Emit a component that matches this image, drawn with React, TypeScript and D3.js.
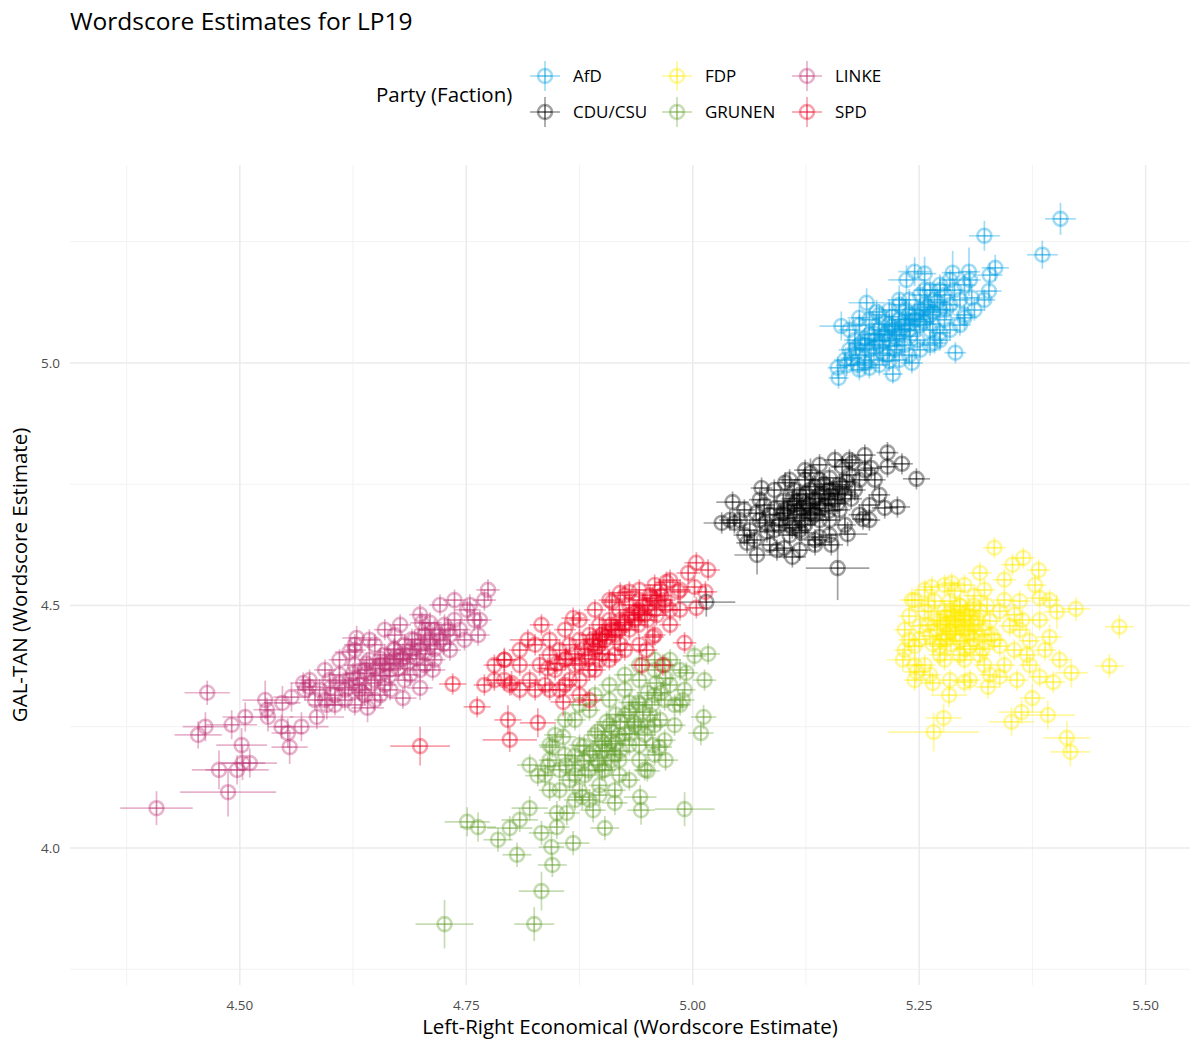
import React from 'react';
import * as d3 from 'd3';

// [x, y, xError, yError]
type Pt = [number, number, number, number];
// dense cores: [x, y], drawn with the typical small error bars
type Core = [number, number];

const parties = ['AfD', 'CDU/CSU', 'FDP', 'GRUNEN', 'LINKE', 'SPD'];
const partyColors = ['#009EE0', '#000000', '#FFED00', '#64A12D', '#BE3075', '#EB001F'];

const xTicks = [4.5, 4.75, 5.0, 5.25, 5.5];
const xMinor = [4.375, 4.625, 4.875, 5.125, 5.375];
const yTicks = [4.0, 4.5, 5.0];
const yMinor = [3.75, 4.25, 4.75, 5.25];

const coreXErr = 0.012;
const coreYErr = 0.022;

const afd: Pt[] = [
  [5.406, 5.297, 0.017, 0.033], [5.322, 5.262, 0.017, 0.031], [5.386, 5.223, 0.017, 0.029],
  [5.334, 5.196, 0.015, 0.027], [5.328, 5.181, 0.014, 0.025], [5.327, 5.148, 0.014, 0.025],
  [5.305, 5.188, 0.012, 0.05], [5.287, 5.186, 0.012, 0.045], [5.256, 5.184, 0.013, 0.035],
  [5.245, 5.188, 0.018, 0.03], [5.236, 5.171, 0.02, 0.03], [5.192, 5.124, 0.02, 0.03],
  [5.164, 5.076, 0.024, 0.03], [5.184, 5.093, 0.013, 0.025], [5.16, 4.99, 0.011, 0.022],
  [5.161, 4.969, 0.011, 0.022], [5.221, 4.977, 0.011, 0.02], [5.242, 5.0, 0.012, 0.022],
  [5.29, 5.021, 0.012, 0.022], [5.3, 5.093, 0.014, 0.025], [5.308, 5.134, 0.014, 0.025],
  [5.267, 5.041, 0.013, 0.022], [5.273, 5.062, 0.012, 0.022], [5.228, 5.13, 0.013, 0.03],
  [5.203, 5.105, 0.013, 0.025],
];
const afdCore: Core[] = [
  [5.173, 5.027], [5.179, 5.047], [5.184, 5.016], [5.19, 5.037], [5.195, 5.058], [5.195, 5.027],
  [5.201, 5.047], [5.206, 5.068], [5.206, 5.037], [5.212, 5.058], [5.217, 5.078], [5.217, 5.047],
  [5.223, 5.068], [5.228, 5.089], [5.228, 5.058], [5.234, 5.078], [5.239, 5.099], [5.239, 5.068],
  [5.245, 5.089], [5.251, 5.109], [5.251, 5.078], [5.256, 5.12], [5.262, 5.099], [5.267, 5.13],
  [5.273, 5.109], [5.278, 5.14], [5.284, 5.12], [5.289, 5.15], [5.168, 5.006], [5.182, 4.996],
  [5.197, 5.006], [5.215, 5.016], [5.223, 5.027], [5.234, 5.037], [5.248, 5.047], [5.256, 5.15],
  [5.273, 5.15], [5.295, 5.13], [5.3, 5.161], [5.278, 5.089], [5.262, 5.068],
  [5.185, 5.04], [5.19, 5.05], [5.2, 5.06], [5.21, 5.045], [5.215, 5.065], [5.22, 5.075],
  [5.225, 5.05], [5.23, 5.07], [5.235, 5.09], [5.24, 5.08], [5.245, 5.1], [5.25, 5.09],
  [5.255, 5.11], [5.26, 5.115], [5.265, 5.105], [5.27, 5.125], [5.2, 5.03], [5.21, 5.02],
  [5.18, 5.03], [5.175, 5.01], [5.19, 5.0], [5.225, 5.035], [5.24, 5.055], [5.255, 5.085],
  [5.265, 5.08], [5.28, 5.11], [5.205, 5.08], [5.22, 5.095], [5.235, 5.11], [5.17, 4.995],
  [5.173, 5.068], [5.195, 5.089], [5.217, 5.109], [5.239, 5.13], [5.262, 5.15], [5.284, 5.171],
  [5.306, 5.171], [5.184, 5.078], [5.206, 5.099], [5.228, 5.12], [5.251, 5.14], [5.273, 5.161],
  [5.184, 4.986], [5.206, 4.996], [5.228, 5.006], [5.251, 5.027], [5.273, 5.047], [5.295, 5.078],
  [5.311, 5.109], [5.322, 5.13], [5.195, 4.99], [5.217, 5.004], [5.239, 5.016], [5.262, 5.037],
  [5.284, 5.068], [5.3, 5.099],
];

const cdu: Pt[] = [
  [5.247, 4.761, 0.015, 0.022], [5.231, 4.792, 0.012, 0.022], [5.215, 4.815, 0.012, 0.022],
  [5.215, 4.786, 0.012, 0.022], [5.19, 4.81, 0.012, 0.022], [5.197, 4.783, 0.012, 0.022],
  [5.226, 4.703, 0.014, 0.022], [5.212, 4.701, 0.014, 0.022], [5.195, 4.676, 0.012, 0.022],
  [5.188, 4.678, 0.012, 0.022], [5.171, 4.647, 0.022, 0.025], [5.153, 4.625, 0.013, 0.022],
  [5.16, 4.577, 0.035, 0.066], [5.11, 4.6, 0.015, 0.022], [5.071, 4.604, 0.025, 0.04],
  [5.06, 4.629, 0.012, 0.022], [5.032, 4.67, 0.02, 0.022], [5.046, 4.67, 0.012, 0.022],
  [5.044, 4.713, 0.018, 0.022], [5.076, 4.742, 0.012, 0.022], [5.102, 4.753, 0.012, 0.022],
  [5.13, 4.773, 0.014, 0.03], [5.151, 4.763, 0.012, 0.022], [5.165, 4.786, 0.012, 0.022],
  [5.176, 4.794, 0.012, 0.022], [5.015, 4.507, 0.032, 0.03], [5.14, 4.641, 0.012, 0.022],
  [5.093, 4.614, 0.012, 0.022], [5.082, 4.652, 0.012, 0.022],
];
const cduCore: Core[] = [
  [5.096, 4.676], [5.101, 4.697], [5.107, 4.666], [5.112, 4.707], [5.118, 4.687], [5.118, 4.728],
  [5.124, 4.666], [5.129, 4.707], [5.129, 4.738], [5.135, 4.687], [5.14, 4.728], [5.14, 4.759],
  [5.146, 4.707], [5.151, 4.738], [5.157, 4.718], [5.162, 4.749], [5.168, 4.728], [5.107, 4.645],
  [5.09, 4.655], [5.085, 4.687], [5.074, 4.676], [5.079, 4.707], [5.112, 4.738], [5.124, 4.759],
  [5.173, 4.769], [5.179, 4.738], [5.184, 4.759], [5.063, 4.655], [5.052, 4.676], [5.135, 4.635],
  [5.151, 4.676], [5.1, 4.69], [5.12, 4.7], [5.11, 4.72], [5.13, 4.69],
  [5.105, 4.68], [5.115, 4.695], [5.125, 4.71], [5.135, 4.72], [5.145, 4.73], [5.155, 4.74],
  [5.12, 4.675], [5.13, 4.7], [5.14, 4.71], [5.15, 4.72], [5.16, 4.73], [5.095, 4.665],
  [5.105, 4.7], [5.115, 4.715], [5.125, 4.73], [5.135, 4.745], [5.145, 4.75], [5.11, 4.66],
  [5.12, 4.65], [5.1, 4.715], [5.09, 4.7], [5.165, 4.745], [5.17, 4.755], [5.14, 4.7],
  [5.13, 4.68], [5.15, 4.695], [5.08, 4.67], [5.07, 4.69], [5.16, 4.71], [5.175, 4.72],
  [5.041, 4.676], [5.057, 4.697], [5.074, 4.718], [5.09, 4.738], [5.107, 4.759], [5.124, 4.779],
  [5.14, 4.79], [5.157, 4.8], [5.173, 4.8], [5.19, 4.779], [5.201, 4.759], [5.206, 4.728],
  [5.195, 4.707], [5.184, 4.687], [5.168, 4.666], [5.151, 4.645], [5.135, 4.625], [5.118, 4.614],
  [5.101, 4.618], [5.085, 4.625], [5.068, 4.635], [5.057, 4.645], [5.118, 4.655], [5.14, 4.676],
  [5.162, 4.697],
];

const fdp: Pt[] = [
  [5.333, 4.619, 0.013, 0.022], [5.365, 4.598, 0.013, 0.022], [5.353, 4.584, 0.013, 0.022],
  [5.382, 4.573, 0.013, 0.022], [5.423, 4.493, 0.016, 0.025], [5.471, 4.456, 0.016, 0.025],
  [5.46, 4.375, 0.016, 0.025], [5.418, 4.361, 0.018, 0.03], [5.402, 4.487, 0.014, 0.035],
  [5.394, 4.435, 0.014, 0.025], [5.392, 4.274, 0.03, 0.03], [5.413, 4.227, 0.026, 0.035],
  [5.417, 4.198, 0.022, 0.03], [5.375, 4.309, 0.014, 0.03], [5.363, 4.28, 0.025, 0.025],
  [5.352, 4.26, 0.025, 0.03], [5.326, 4.332, 0.014, 0.025], [5.283, 4.315, 0.02, 0.025],
  [5.277, 4.268, 0.02, 0.03], [5.266, 4.239, 0.05, 0.04], [5.247, 4.363, 0.014, 0.025],
  [5.232, 4.388, 0.018, 0.025], [5.242, 4.511, 0.014, 0.025], [5.264, 4.538, 0.013, 0.022],
  [5.286, 4.546, 0.013, 0.022], [5.317, 4.567, 0.013, 0.022], [5.344, 4.553, 0.013, 0.022],
  [5.383, 4.515, 0.014, 0.022], [5.364, 4.47, 0.013, 0.022], [5.369, 4.398, 0.013, 0.022],
  [5.383, 4.353, 0.013, 0.022], [5.398, 4.342, 0.013, 0.022], [5.358, 4.346, 0.013, 0.022],
  [5.339, 4.353, 0.013, 0.022], [5.3, 4.342, 0.013, 0.022], [5.265, 4.34, 0.013, 0.022],
];
const fdpCore: Core[] = [
  [5.256, 4.488], [5.267, 4.509], [5.273, 4.468], [5.278, 4.488], [5.284, 4.447], [5.284, 4.509],
  [5.289, 4.478], [5.295, 4.427], [5.295, 4.499], [5.3, 4.458], [5.306, 4.478], [5.306, 4.416],
  [5.311, 4.52], [5.311, 4.447], [5.317, 4.489], [5.322, 4.427], [5.273, 4.416], [5.262, 4.437],
  [5.251, 4.458], [5.245, 4.416], [5.328, 4.468], [5.339, 4.488], [5.35, 4.458], [5.339, 4.416],
  [5.278, 4.388], [5.3, 4.388], [5.322, 4.377], [5.256, 4.377], [5.239, 4.478], [5.289, 4.53],
  [5.361, 4.509], [5.372, 4.427], [5.245, 4.346], [5.29, 4.46], [5.3, 4.47], [5.28, 4.43],
  [5.27, 4.45], [5.28, 4.46], [5.29, 4.47], [5.3, 4.48], [5.31, 4.46], [5.29, 4.44],
  [5.3, 4.45], [5.31, 4.43], [5.28, 4.44], [5.27, 4.47], [5.285, 4.49], [5.295, 4.5],
  [5.305, 4.49], [5.315, 4.47], [5.32, 4.45], [5.275, 4.43], [5.26, 4.46], [5.265, 4.42],
  [5.285, 4.42], [5.3, 4.41], [5.32, 4.41], [5.33, 4.44], [5.325, 4.5], [5.26, 4.5],
  [5.25, 4.43], [5.29, 4.455], [5.305, 4.44], [5.295, 4.485], [5.28, 4.475], [5.31, 4.5],
  [5.245, 4.511], [5.256, 4.532], [5.278, 4.542], [5.3, 4.542], [5.322, 4.532], [5.344, 4.511],
  [5.355, 4.481], [5.361, 4.45], [5.355, 4.408], [5.344, 4.377], [5.328, 4.357], [5.306, 4.346],
  [5.284, 4.346], [5.262, 4.357], [5.245, 4.377], [5.234, 4.408], [5.234, 4.45], [5.239, 4.429],
  [5.383, 4.47], [5.389, 4.408], [5.372, 4.377], [5.405, 4.388], [5.394, 4.511], [5.378, 4.542],
  [5.295, 4.398], [5.317, 4.398], [5.333, 4.429], [5.273, 4.398],
];

const grunen: Pt[] = [
  [5.017, 4.4, 0.013, 0.022], [5.002, 4.396, 0.013, 0.022], [5.013, 4.346, 0.013, 0.022],
  [5.012, 4.27, 0.014, 0.025], [5.009, 4.237, 0.014, 0.025], [4.991, 4.08, 0.033, 0.035],
  [4.97, 4.181, 0.014, 0.022], [4.95, 4.159, 0.014, 0.022], [4.942, 4.105, 0.018, 0.025],
  [4.943, 4.078, 0.015, 0.03], [4.914, 4.093, 0.014, 0.025], [4.903, 4.041, 0.016, 0.025],
  [4.89, 4.078, 0.014, 0.025], [4.878, 4.105, 0.015, 0.025], [4.861, 4.072, 0.014, 0.025],
  [4.85, 4.072, 0.014, 0.025], [4.85, 4.043, 0.014, 0.025], [4.868, 4.01, 0.018, 0.025],
  [4.844, 4.002, 0.014, 0.03], [4.845, 3.965, 0.016, 0.025], [4.833, 3.911, 0.025, 0.04],
  [4.825, 3.843, 0.022, 0.035], [4.726, 3.843, 0.032, 0.05], [4.751, 4.054, 0.025, 0.03],
  [4.763, 4.043, 0.02, 0.03], [4.785, 4.017, 0.016, 0.025], [4.806, 3.986, 0.016, 0.025],
  [4.798, 4.041, 0.025, 0.025], [4.809, 4.058, 0.02, 0.025], [4.82, 4.082, 0.02, 0.025],
  [4.833, 4.031, 0.014, 0.025], [4.82, 4.171, 0.014, 0.022], [4.829, 4.149, 0.014, 0.022],
  [4.84, 4.169, 0.014, 0.022], [4.857, 4.229, 0.014, 0.022], [4.845, 4.208, 0.014, 0.022],
  [4.963, 4.208, 0.014, 0.022], [4.956, 4.212, 0.014, 0.022], [4.989, 4.305, 0.013, 0.022],
  [4.993, 4.361, 0.013, 0.022],
];
const grunenCore: Core[] = [
  [4.853, 4.161], [4.859, 4.192], [4.864, 4.14], [4.87, 4.171], [4.875, 4.212], [4.881, 4.15],
  [4.886, 4.192], [4.892, 4.233], [4.897, 4.171], [4.903, 4.212], [4.908, 4.253], [4.914, 4.192],
  [4.919, 4.233], [4.925, 4.274], [4.93, 4.212], [4.936, 4.253], [4.941, 4.295], [4.947, 4.233],
  [4.953, 4.274], [4.958, 4.315], [4.964, 4.264], [4.969, 4.305], [4.975, 4.336], [4.98, 4.295],
  [4.908, 4.305], [4.925, 4.326], [4.941, 4.346], [4.958, 4.367], [4.969, 4.377], [4.875, 4.119],
  [4.897, 4.129], [4.919, 4.15], [4.941, 4.181], [4.842, 4.119], [4.87, 4.264], [4.886, 4.284],
  [4.9, 4.2], [4.91, 4.22], [4.92, 4.2],
  [4.88, 4.18], [4.89, 4.2], [4.9, 4.22], [4.91, 4.24], [4.92, 4.26], [4.93, 4.28],
  [4.94, 4.3], [4.95, 4.32], [4.885, 4.16], [4.895, 4.18], [4.905, 4.2], [4.915, 4.215],
  [4.925, 4.235], [4.935, 4.26], [4.945, 4.28], [4.955, 4.295], [4.965, 4.32], [4.87, 4.19],
  [4.88, 4.21], [4.895, 4.24], [4.905, 4.26], [4.915, 4.275], [4.93, 4.235], [4.94, 4.25],
  [4.95, 4.25], [4.86, 4.17], [4.87, 4.15], [4.9, 4.16], [4.91, 4.18], [4.96, 4.34],
  [4.97, 4.35], [4.93, 4.3],
  [4.842, 4.181], [4.837, 4.15], [4.853, 4.119], [4.87, 4.099], [4.886, 4.099], [4.897, 4.109],
  [4.914, 4.119], [4.93, 4.14], [4.947, 4.161], [4.958, 4.192], [4.969, 4.222], [4.98, 4.253],
  [4.986, 4.295], [4.991, 4.326], [4.986, 4.367], [4.975, 4.388], [4.958, 4.388], [4.941, 4.377],
  [4.925, 4.357], [4.908, 4.336], [4.892, 4.315], [4.875, 4.295], [4.859, 4.264], [4.848, 4.233],
  [4.842, 4.212], [4.919, 4.181], [4.903, 4.161], [4.941, 4.212], [4.958, 4.253],
];

const linke: Pt[] = [
  [4.774, 4.532, 0.013, 0.022], [4.77, 4.511, 0.013, 0.022], [4.751, 4.491, 0.013, 0.022],
  [4.765, 4.47, 0.013, 0.022], [4.763, 4.439, 0.013, 0.022], [4.701, 4.464, 0.013, 0.022],
  [4.71, 4.464, 0.013, 0.022], [4.629, 4.433, 0.016, 0.025], [4.621, 4.404, 0.016, 0.025],
  [4.713, 4.367, 0.014, 0.022], [4.699, 4.33, 0.014, 0.025], [4.68, 4.309, 0.015, 0.022],
  [4.641, 4.289, 0.018, 0.03], [4.585, 4.27, 0.03, 0.025], [4.596, 4.295, 0.02, 0.03],
  [4.568, 4.25, 0.03, 0.03], [4.555, 4.208, 0.02, 0.035], [4.553, 4.237, 0.018, 0.03],
  [4.557, 4.311, 0.02, 0.03], [4.547, 4.299, 0.02, 0.035], [4.528, 4.305, 0.025, 0.04],
  [4.531, 4.27, 0.028, 0.03], [4.506, 4.27, 0.025, 0.03], [4.491, 4.254, 0.028, 0.03],
  [4.464, 4.32, 0.025, 0.025], [4.462, 4.25, 0.025, 0.03], [4.454, 4.233, 0.026, 0.028],
  [4.502, 4.212, 0.028, 0.035], [4.511, 4.175, 0.03, 0.03], [4.503, 4.175, 0.025, 0.035],
  [4.497, 4.161, 0.035, 0.03], [4.477, 4.161, 0.03, 0.04], [4.487, 4.115, 0.053, 0.05],
  [4.408, 4.082, 0.04, 0.035], [4.53, 4.285, 0.015, 0.025], [4.546, 4.25, 0.015, 0.025],
  [4.577, 4.332, 0.014, 0.022], [4.57, 4.34, 0.014, 0.022],
];
const linkeCore: Core[] = [
  [4.588, 4.326], [4.599, 4.346], [4.605, 4.315], [4.61, 4.357], [4.616, 4.326], [4.621, 4.346],
  [4.627, 4.377], [4.632, 4.336], [4.638, 4.367], [4.643, 4.388], [4.649, 4.346], [4.655, 4.377],
  [4.66, 4.398], [4.666, 4.367], [4.671, 4.408], [4.677, 4.388], [4.682, 4.419], [4.688, 4.398],
  [4.693, 4.429], [4.699, 4.408], [4.704, 4.439], [4.71, 4.419], [4.715, 4.45], [4.721, 4.429],
  [4.726, 4.46], [4.732, 4.439], [4.737, 4.47], [4.743, 4.45], [4.616, 4.305], [4.638, 4.315],
  [4.66, 4.336], [4.627, 4.408], [4.649, 4.419], [4.671, 4.439], [4.688, 4.357], [4.704, 4.377],
  [4.594, 4.305], [4.665, 4.38], [4.68, 4.39],
  [4.62, 4.33], [4.63, 4.35], [4.64, 4.36], [4.65, 4.37], [4.66, 4.38], [4.67, 4.39],
  [4.68, 4.4], [4.69, 4.41], [4.7, 4.42], [4.71, 4.43], [4.72, 4.44], [4.73, 4.45],
  [4.635, 4.32], [4.645, 4.34], [4.655, 4.355], [4.665, 4.355], [4.675, 4.37], [4.685, 4.38],
  [4.695, 4.39], [4.705, 4.4], [4.715, 4.41], [4.725, 4.42], [4.6, 4.33], [4.61, 4.34],
  [4.625, 4.36], [4.64, 4.38], [4.655, 4.39], [4.67, 4.41], [4.69, 4.43], [4.705, 4.45],
  [4.577, 4.346], [4.594, 4.367], [4.61, 4.388], [4.627, 4.419], [4.643, 4.429], [4.66, 4.45],
  [4.677, 4.46], [4.699, 4.481], [4.721, 4.501], [4.737, 4.511], [4.754, 4.501], [4.759, 4.47],
  [4.748, 4.429], [4.732, 4.408], [4.715, 4.388], [4.699, 4.367], [4.682, 4.346], [4.666, 4.326],
  [4.649, 4.305], [4.627, 4.295], [4.605, 4.295], [4.583, 4.305], [4.572, 4.326], [4.655, 4.315],
  [4.632, 4.326],
];

const spd: Pt[] = [
  [5.004, 4.588, 0.013, 0.022], [5.017, 4.573, 0.013, 0.022], [4.995, 4.567, 0.013, 0.022],
  [5.002, 4.538, 0.013, 0.022], [5.014, 4.528, 0.013, 0.022], [5.004, 4.495, 0.013, 0.022],
  [4.991, 4.423, 0.013, 0.022], [4.971, 4.548, 0.013, 0.022], [4.984, 4.528, 0.013, 0.022],
  [4.833, 4.46, 0.013, 0.022], [4.868, 4.474, 0.013, 0.022], [4.818, 4.429, 0.02, 0.022],
  [4.792, 4.388, 0.015, 0.025], [4.735, 4.338, 0.015, 0.022], [4.762, 4.291, 0.015, 0.022],
  [4.8, 4.34, 0.025, 0.025], [4.796, 4.264, 0.015, 0.03], [4.829, 4.258, 0.02, 0.03],
  [4.798, 4.223, 0.03, 0.025], [4.857, 4.301, 0.014, 0.03], [4.886, 4.305, 0.014, 0.022],
  [4.911, 4.507, 0.012, 0.022], [4.92, 4.526, 0.012, 0.022], [4.93, 4.528, 0.012, 0.022],
  [4.949, 4.408, 0.012, 0.022], [4.944, 4.377, 0.012, 0.022], [4.956, 4.435, 0.012, 0.022],
  [4.967, 4.377, 0.012, 0.022], [4.699, 4.21, 0.033, 0.04],
];
const spdCore: Core[] = [
  [4.831, 4.377], [4.842, 4.398], [4.848, 4.367], [4.853, 4.408], [4.859, 4.388], [4.864, 4.419],
  [4.87, 4.377], [4.875, 4.429], [4.881, 4.398], [4.886, 4.439], [4.892, 4.408], [4.897, 4.46],
  [4.903, 4.429], [4.908, 4.47], [4.914, 4.439], [4.919, 4.491], [4.925, 4.46], [4.93, 4.501],
  [4.936, 4.47], [4.941, 4.511], [4.947, 4.481], [4.953, 4.521], [4.958, 4.491], [4.964, 4.532],
  [4.969, 4.511], [4.975, 4.491], [4.82, 4.346], [4.809, 4.377], [4.798, 4.336], [4.781, 4.346],
  [4.77, 4.336], [4.837, 4.336], [4.864, 4.346], [4.886, 4.367], [4.897, 4.388], [4.914, 4.398],
  [4.853, 4.326], [4.875, 4.315], [4.9, 4.44], [4.91, 4.45], [4.89, 4.42],
  [4.88, 4.41], [4.89, 4.43], [4.9, 4.44], [4.91, 4.46], [4.92, 4.47], [4.93, 4.48],
  [4.94, 4.49], [4.95, 4.5], [4.96, 4.51], [4.87, 4.4], [4.86, 4.39], [4.895, 4.415],
  [4.905, 4.435], [4.915, 4.45], [4.925, 4.465], [4.935, 4.485], [4.945, 4.5], [4.955, 4.515],
  [4.965, 4.52], [4.85, 4.38], [4.84, 4.37], [4.875, 4.38], [4.885, 4.39], [4.9, 4.4],
  [4.92, 4.42], [4.94, 4.46], [4.96, 4.48], [4.97, 4.5], [4.95, 4.47], [4.93, 4.45],
  [4.809, 4.408], [4.826, 4.419], [4.842, 4.429], [4.859, 4.45], [4.875, 4.47], [4.892, 4.491],
  [4.908, 4.511], [4.925, 4.521], [4.941, 4.532], [4.958, 4.542], [4.975, 4.552], [4.986, 4.532],
  [4.986, 4.491], [4.975, 4.46], [4.958, 4.439], [4.941, 4.419], [4.925, 4.408], [4.908, 4.388],
  [4.892, 4.367], [4.875, 4.346], [4.859, 4.336], [4.842, 4.326], [4.826, 4.326], [4.809, 4.326],
  [4.792, 4.346], [4.781, 4.377], [4.792, 4.388], [4.897, 4.429], [4.919, 4.45], [4.941, 4.481],
];

const withCore = (pts: Pt[], core: Core[]): Pt[] =>
  [...pts, ...core.map(([cx, cy]): Pt => [cx, cy, coreXErr, coreYErr])];

const partyPoints: Pt[][] = [
  withCore(afd, afdCore),
  withCore(cdu, cduCore),
  withCore(fdp, fdpCore),
  withCore(grunen, grunenCore),
  withCore(linke, linkeCore),
  withCore(spd, spdCore),
];

const W = 1200;
const H = 1050;
const panel = { left: 70, right: 1190, top: 165, bottom: 985 };
const font = "'Open Sans', 'Noto Sans', sans-serif";
const alpha = 0.37;

const x = d3.scaleLinear().domain([4.3125, 5.549]).range([panel.left, panel.right]);
const y = d3.scaleLinear().domain([3.7175, 5.408]).range([panel.bottom, panel.top]);

// circle-plus glyph with error bars; each stroke carries its own alpha like ggplot
const Glyph: React.FC<{ cx: number; cy: number; x0: number; x1: number; y0: number; y1: number; color: string }> =
  ({ cx, cy, x0, x1, y0, y1, color }) => {
    const r = 7;
    return (
      <g stroke={color} strokeOpacity={alpha} fill="none">
        <line x1={x0} x2={x1} y1={cy} y2={cy} strokeWidth={1.7} />
        <line x1={cx} x2={cx} y1={y0} y2={y1} strokeWidth={1.7} />
        <circle cx={cx} cy={cy} r={r} strokeWidth={2.6} />
        <line x1={cx - r} x2={cx + r} y1={cy} y2={cy} strokeWidth={1.5} />
        <line x1={cx} x2={cx} y1={cy - r} y2={cy + r} strokeWidth={1.5} />
      </g>
    );
  };

export default function App() {
  const legendCols = [545, 677, 807];
  const legendRows = [76, 112];

  return (
    <svg width={W} height={H} style={{ position: 'absolute', left: 0, top: 0, background: '#fff' }} fontFamily={font}>
      <rect width={W} height={H} fill="#fff" />

      {/* title */}
      <text x={70} y={30} fontSize={24.5} fill="#000">Wordscore Estimates for LP19</text>

      {/* legend */}
      <text x={376} y={102} fontSize={20.5} fill="#000">Party (Faction)</text>
      {parties.map((p, i) => {
        const cx = legendCols[Math.floor(i / 2)];
        const cy = legendRows[i % 2];
        return (
          <Glyph key={p} cx={cx} cy={cy} x0={cx - 15} x1={cx + 15} y0={cy - 15} y1={cy + 15} color={partyColors[i]} />
        );
      })}
      {parties.map((p, i) => (
        <text key={p} x={legendCols[Math.floor(i / 2)] + 28} y={legendRows[i % 2] + 6} fontSize={17} fill="#000">{p}</text>
      ))}

      {/* grid */}
      {xMinor.map(t => (
        <line key={'xm' + t} x1={x(t)} x2={x(t)} y1={panel.top} y2={panel.bottom} stroke="#f2f2f2" strokeWidth={1} />
      ))}
      {yMinor.map(t => (
        <line key={'ym' + t} x1={panel.left} x2={panel.right} y1={y(t)} y2={y(t)} stroke="#f2f2f2" strokeWidth={1} />
      ))}
      {xTicks.map(t => (
        <line key={'x' + t} x1={x(t)} x2={x(t)} y1={panel.top} y2={panel.bottom} stroke="#ebebeb" strokeWidth={1.5} />
      ))}
      {yTicks.map(t => (
        <line key={'y' + t} x1={panel.left} x2={panel.right} y1={y(t)} y2={y(t)} stroke="#ebebeb" strokeWidth={1.5} />
      ))}

      {/* points with error bars */}
      {partyPoints.map((pts, pi) => (
        <g key={parties[pi]}>
          {pts.map((d, j) => (
            <Glyph
              key={j}
              cx={x(d[0])}
              cy={y(d[1])}
              x0={x(d[0] - d[2])}
              x1={x(d[0] + d[2])}
              y0={y(d[1] - d[3])}
              y1={y(d[1] + d[3])}
              color={partyColors[pi]}
            />
          ))}
        </g>
      ))}

      {/* axes labels */}
      {xTicks.map(t => (
        <text key={'xl' + t} x={x(t)} y={1010} fontSize={13.5} fill="#4d4d4d" textAnchor="middle">
          {d3.format('.2f')(t)}
        </text>
      ))}
      {yTicks.map(t => (
        <text key={'yl' + t} x={60} y={y(t) + 5} fontSize={13.5} fill="#4d4d4d" textAnchor="end">
          {d3.format('.1f')(t)}
        </text>
      ))}
      <text x={630} y={1034} fontSize={20.5} fill="#000" textAnchor="middle">Left-Right Economical (Wordscore Estimate)</text>
      <text transform={`translate(27,${575}) rotate(-90)`} fontSize={20.5} fill="#000" textAnchor="middle">
        GAL-TAN (Wordscore Estimate)
      </text>
    </svg>
  );
}
